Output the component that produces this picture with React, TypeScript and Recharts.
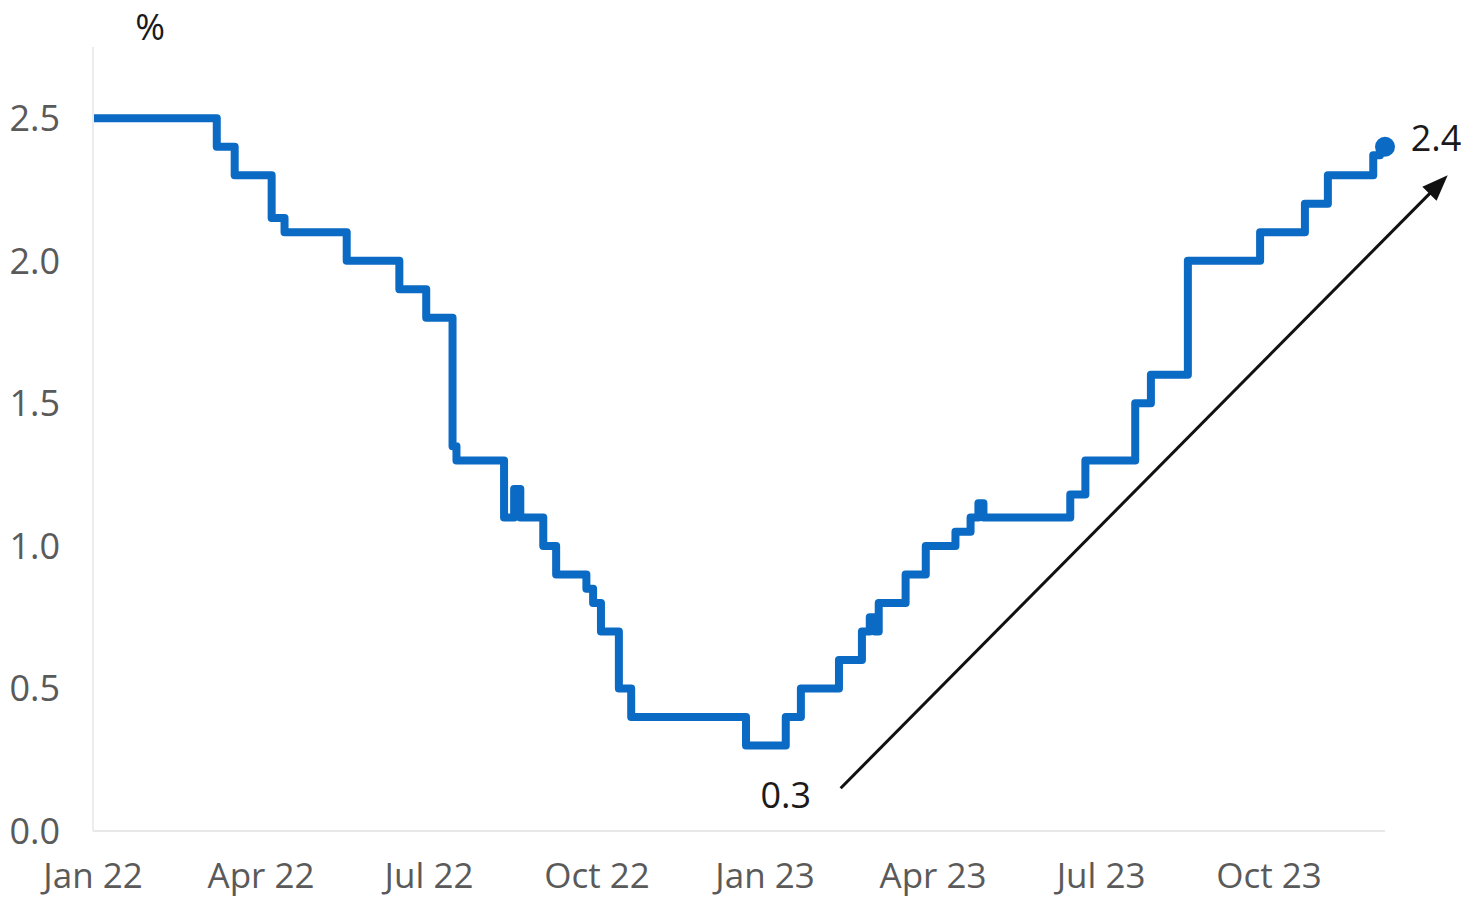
import React from 'react';
import { LineChart, Line, XAxis, YAxis, ReferenceDot, ReferenceLine } from 'recharts';

// x position of each step, in months since Jan 2022
const months = [
  0, 2.21, 2.53, 3.19, 3.42, 4.53, 5.47, 5.95, 6.42, 6.49, 7.34, 7.52, 7.63, 8.04, 8.27,
  8.81, 8.93, 9.07, 9.39, 9.61, 11.66, 12.37, 12.64, 13.32, 13.73, 13.87, 13.96, 14.03,
  14.51, 14.87, 15.4, 15.67, 15.81, 15.9, 17.45, 17.72, 18.61, 18.89, 19.55, 20.84,
  21.64, 22.05, 22.86, 22.98, 23.07,
];
// value (%) from that point on
const rates = [
  2.5, 2.4, 2.3, 2.15, 2.1, 2.0, 1.9, 1.8, 1.35, 1.3, 1.1, 1.2, 1.1, 1.0, 0.9,
  0.85, 0.8, 0.7, 0.5, 0.4, 0.3, 0.4, 0.5, 0.6, 0.7, 0.75, 0.7, 0.8,
  0.9, 1.0, 1.05, 1.1, 1.15, 1.1, 1.18, 1.3, 1.5, 1.6, 2.0, 2.1,
  2.2, 2.3, 2.37, 2.4, 2.4,
];
const xTicks = [0, 3, 6, 9, 12, 15, 18, 21];
const xTickLabels = ['Jan 22', 'Apr 22', 'Jul 22', 'Oct 22', 'Jan 23', 'Apr 23', 'Jul 23', 'Oct 23'];
const yTicks = [0, 0.5, 1, 1.5, 2, 2.5];
const yTickLabels = ['0.0', '0.5', '1.0', '1.5', '2.0', '2.5'];

// annotations
const lowLabel = { x: 12.37, y: 0.126, text: '0.3' };
const highLabel = { x: 23.98, y: 2.43, text: '2.4' };
const unitLabel = { x: 1.02, y: 2.82, text: '%' };
const arrowStart = { x: 13.35, y: 0.15 };
const arrowEnd = { x: 24.19, y: 2.3 };

const data = months.map((m, i) => ({ m, v: rates[i] }));

const BLUE = '#0a6ac4';
const FONT = '"Open Sans", "Noto Sans", sans-serif';

const Arrow = (props: any) => {
  const { x1, y1, x2, y2 } = props;
  const ang = Math.atan2(y2 - y1, x2 - x1);
  const len = 26;
  const half = 10;
  const bx = x2 - len * Math.cos(ang);
  const by = y2 - len * Math.sin(ang);
  const px = -Math.sin(ang) * half;
  const py = Math.cos(ang) * half;
  return (
    <g>
      <line x1={x1} y1={y1} x2={bx + 2 * Math.cos(ang)} y2={by + 2 * Math.sin(ang)} stroke="#111" strokeWidth={3} />
      <polygon points={`${x2},${y2} ${bx + px},${by + py} ${bx - px},${by - py}`} fill="#111" />
    </g>
  );
};

const textLabel = (text: string) => ({
  value: text,
  position: 'center' as const,
  fill: '#1a1a1a',
  fontSize: 36,
  fontFamily: FONT,
});

export default function App() {
  const last = data.length - 1;
  return (
    <div style={{ position: 'absolute', left: 0, top: 0, width: 1482, height: 898, background: '#fff' }}>
      <LineChart
        width={1482}
        height={898}
        data={data}
        margin={{ top: 47, right: 97, bottom: 37, left: 0 }}
        style={{ overflow: 'visible' }}
      >
        <XAxis
          dataKey="m"
          type="number"
          domain={[0, 23.07]}
          ticks={xTicks}
          tickFormatter={(v: number) => xTickLabels[xTicks.indexOf(v)] ?? ''}
          tickLine={false}
          tickSize={0}
          tickMargin={32}
          axisLine={{ stroke: '#e8e8e8', strokeWidth: 2 }}
          tick={{ fill: '#5a5a5a', fontSize: 35, fontFamily: FONT }}
          interval={0}
          allowDataOverflow
        />
        <YAxis
          type="number"
          domain={[0, 2.75]}
          ticks={yTicks}
          tickFormatter={(v: number) => yTickLabels[yTicks.indexOf(v)] ?? ''}
          width={93}
          tickLine={false}
          tickSize={0}
          tickMargin={33}
          axisLine={{ stroke: '#ececec', strokeWidth: 2 }}
          tick={{ fill: '#5a5a5a', fontSize: 36, fontFamily: FONT }}
          interval={0}
        />
        <Line
          type="stepAfter"
          dataKey="v"
          stroke={BLUE}
          strokeWidth={8}
          strokeLinejoin="round"
          strokeLinecap="round"
          dot={false}
          activeDot={false}
          isAnimationActive={false}
        />
        <ReferenceDot x={data[last].m} y={data[last].v} r={10} fill={BLUE} stroke="none" ifOverflow="visible" />
        <ReferenceLine
          segment={[arrowStart, arrowEnd]}
          ifOverflow="visible"
          shape={(p: any) => <Arrow {...p} />}
        />
        <ReferenceDot x={lowLabel.x} y={lowLabel.y} r={1} fill="none" stroke="none" ifOverflow="visible" label={textLabel(lowLabel.text)} />
        <ReferenceDot x={highLabel.x} y={highLabel.y} r={1} fill="none" stroke="none" ifOverflow="visible" label={textLabel(highLabel.text)} />
        <ReferenceDot x={unitLabel.x} y={unitLabel.y} r={1} fill="none" stroke="none" ifOverflow="visible" label={textLabel(unitLabel.text)} />
      </LineChart>
    </div>
  );
}
